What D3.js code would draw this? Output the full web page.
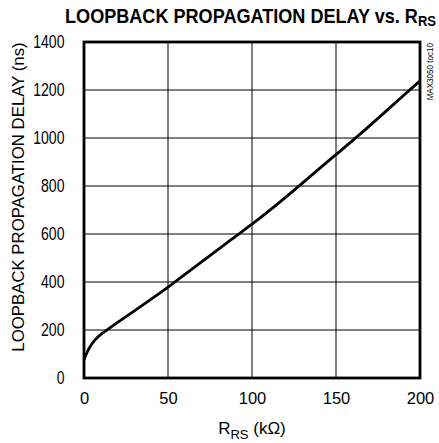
<!DOCTYPE html>
<html>
<head>
<meta charset="utf-8">
<script src="https://cdn.jsdelivr.net/npm/d3@7"></script>
<style>
  body { margin: 0; background: #fff; }
  text { font-family: "Liberation Sans", Arial, sans-serif; fill: #000; }
</style>
</head>
<body>
<div id="chart"></div>
<script>
// data
var rrs = [0, 1.6, 3.6, 6.5, 10, 14, 20, 30, 40, 50, 54, 92, 100, 117, 128, 150, 162, 193, 200];
var delay = [76, 104, 132, 160, 182, 202, 232, 280, 328, 378, 400, 600, 640, 735, 800, 932, 1000, 1195, 1238];
var xTicks = [0, 50, 100, 150, 200];
var yTicks = [0, 200, 400, 600, 800, 1000, 1200, 1400];

var svgWidth = 439;
var svgHeight = 443;

var margin = { top: 42, right: 19, bottom: 65, left: 84 };
var width = svgWidth - margin.left - margin.right;
var height = svgHeight - margin.top - margin.bottom;

var svg = d3.select("#chart")
    .append("svg")
    .attr("width", svgWidth)
    .attr("height", svgHeight);

var chartGroup = svg.append("g")
    .attr("transform", `translate(${margin.left}, ${margin.top})`);

var xScale = d3.scaleLinear().domain([0, 200]).range([0, width]);
var yScale = d3.scaleLinear().domain([0, 1400]).range([height, 0]);

// vertical grid (gray)
chartGroup.selectAll(".vgrid")
    .data(xTicks.slice(1, -1))
    .enter()
    .append("line")
    .attr("x1", d => xScale(d))
    .attr("x2", d => xScale(d))
    .attr("y1", 0)
    .attr("y2", height)
    .attr("stroke", "#808080")
    .attr("stroke-width", 2);

// horizontal grid (black)
chartGroup.selectAll(".hgrid")
    .data(yTicks.slice(1, -1))
    .enter()
    .append("line")
    .attr("x1", 0)
    .attr("x2", width)
    .attr("y1", d => yScale(d))
    .attr("y2", d => yScale(d))
    .attr("stroke", "#000")
    .attr("stroke-width", 1);

// axes: labels only
var bottomAxis = d3.axisBottom(xScale).tickValues(xTicks).tickFormat(d3.format("d")).tickSize(0).tickPadding(14);
var leftAxis = d3.axisLeft(yScale).tickValues(yTicks).tickFormat(d3.format("d")).tickSize(0);

var xAxis = chartGroup.append("g")
    .attr("transform", `translate(0, ${height})`)
    .call(bottomAxis);
var yAxis = chartGroup.append("g").call(leftAxis);

xAxis.select(".domain").remove();
yAxis.select(".domain").remove();

xAxis.selectAll("text")
    .style("font-family", "'Liberation Sans', Arial, sans-serif")
    .style("font-size", "16.5px")
    .attr("fill", "#000");

// y tick labels look condensed in the original
var ySqueeze = 0.8;
yAxis.selectAll("text")
    .style("font-family", "'Liberation Sans', Arial, sans-serif")
    .style("font-size", "17.6px")
    .attr("fill", "#000")
    .attr("x", -19.5 / ySqueeze)
    .attr("transform", `scale(${ySqueeze},1)`);

// curve
var line = d3.line()
    .x((d, i) => xScale(rrs[i]))
    .y(d => yScale(d))
    .curve(d3.curveBasis);

chartGroup.append("path")
    .datum(delay)
    .attr("d", line)
    .attr("fill", "none")
    .attr("stroke", "#000")
    .attr("stroke-width", 2.8)
    .attr("stroke-linejoin", "round");

// frame
chartGroup.append("rect")
    .attr("x", 0)
    .attr("y", 0)
    .attr("width", width)
    .attr("height", height)
    .attr("fill", "none")
    .attr("stroke", "#000")
    .attr("stroke-width", 2.8);

// title, squeezed to the original width
var title = svg.append("text")
    .attr("x", 0)
    .attr("y", 0)
    .attr("text-anchor", "middle")
    .style("font-weight", "bold")
    .style("font-size", "19.5px");
title.append("tspan").text("LOOPBACK PROPAGATION DELAY vs. R");
title.append("tspan").attr("dy", 3).style("font-size", "14px").text("RS");
var tw = title.node().getBBox().width;
title.attr("transform", `translate(250.5, 23) scale(${371 / tw},1)`);

// x label
var xlabel = svg.append("text")
    .attr("x", margin.left + width / 2)
    .attr("y", 434)
    .attr("text-anchor", "middle")
    .style("font-size", "17px");
xlabel.append("tspan").text("R");
xlabel.append("tspan").attr("dy", 5).style("font-size", "13px").text("RS");
xlabel.append("tspan").attr("dy", -5).text(" (k\u03A9)");

// y label
svg.append("text")
    .attr("transform", `translate(24, 197) rotate(-90)`)
    .attr("text-anchor", "middle")
    .style("font-size", "16.8px")
    .text("LOOPBACK PROPAGATION DELAY (ns)");

// side note
svg.append("text")
    .attr("transform", `translate(432.5, 43) rotate(-90) scale(0.85,1)`)
    .attr("text-anchor", "end")
    .style("font-size", "9.5px")
    .text("MAX3050 toc10");
</script>
</body>
</html>
